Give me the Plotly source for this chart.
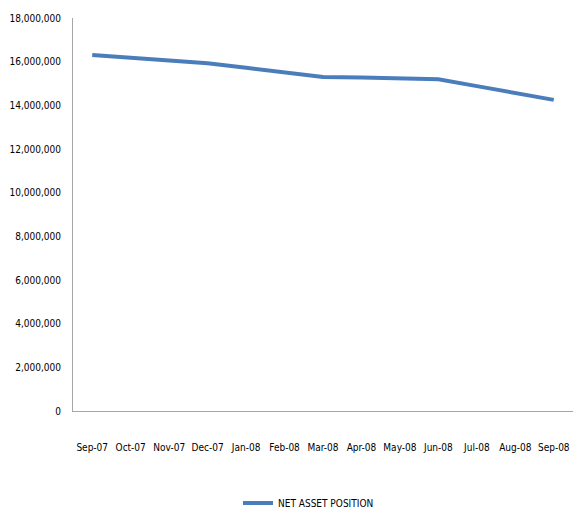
import plotly.graph_objects as go

months = ["Sep-07", "Oct-07", "Nov-07", "Dec-07", "Jan-08", "Feb-08", "Mar-08",
          "Apr-08", "May-08", "Jun-08", "Jul-08", "Aug-08", "Sep-08"]
net_asset_position = [16300000, 16180000, 16050000, 15930000, 15720000, 15500000, 15300000,
                      15270000, 15230000, 15190000, 14880000, 14560000, 14250000]
y_ticks = list(range(0, 18000001, 2000000))

FONT = "DejaVu Sans Condensed, DejaVu Sans, sans-serif"

def f(size=10):
    return dict(family=FONT, size=size, color="#000000")

fig = go.Figure()
fig.add_trace(go.Scatter(
    x=months, y=net_asset_position, mode="lines",
    name="NET ASSET POSITION",
    line=dict(color="#4A7EBB", width=4),
))

fig.update_layout(
    width=574, height=512,
    margin=dict(l=65, r=9, t=10, b=109),
    paper_bgcolor="white", plot_bgcolor="white",
    font=f(),
    showlegend=True,
    legend=dict(orientation="h", x=0.33, xanchor="left",
                yref="container", y=0.033, yanchor="middle",
                font=f(), bgcolor="rgba(0,0,0,0)"),
)
fig.update_xaxes(
    type="category", range=[-0.5, 12.5], automargin=False,
    showline=True, linecolor="#A6A6A6", linewidth=1,
    showgrid=False, zeroline=False, ticks="",
    ticklabelstandoff=27,
    tickfont=f(),
)
fig.update_yaxes(
    range=[0, 18000000], tickvals=y_ticks, tickformat=",d", automargin=False,
    showline=True, linecolor="#A6A6A6", linewidth=1,
    showgrid=False, zeroline=False, ticks="",
    ticklabelstandoff=9,
    tickfont=f(),
)

fig.write_html("out.html")
